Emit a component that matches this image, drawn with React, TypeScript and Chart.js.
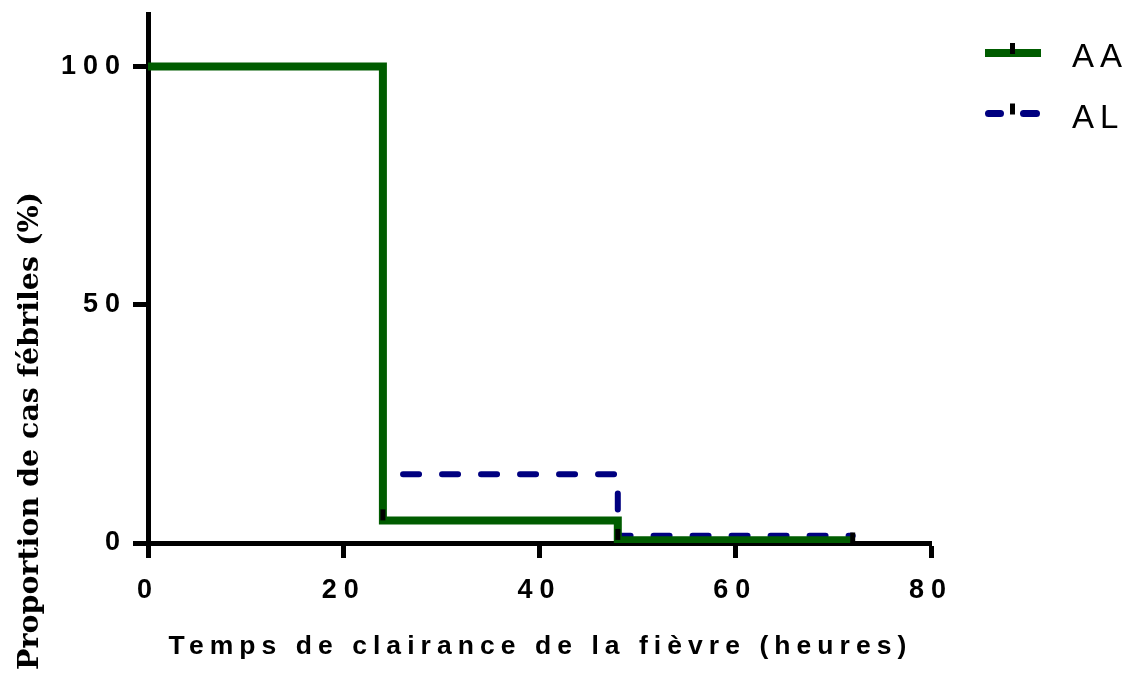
import React, { useEffect, useRef } from 'react';
import { Chart, registerables } from 'chart.js';
Chart.register(...registerables);

const xTicks = [0, 20, 40, 60, 80];
const yTicks = [0, 50, 100];
const timesAA = [0, 24, 48, 72];
const valuesAA = [100, 4.7, 0.6, 0.6];
const timesAL = [0, 24, 48, 72];
const valuesAL = [100, 14.4, 1.5, 1.5];
const censorTimes = [24, 48, 72];
const censorValues = [5.9, 1.8, 1.05];
const seriesNames = ['AA', 'AL'];
const seriesColors = ['#005c00', '#000080'];
const xTitle = 'Temps de clairance de la fièvre (heures)';
const yTitle = 'Proportion de cas fébriles (%)';

const SANS = "'Liberation Sans', Arial, sans-serif";
const SERIF = "'DejaVu Serif', 'Liberation Serif', serif";

const textPlugin = {
  id: 'customText',
  beforeDraw(chart: any) {
    (chart.ctx as any).letterSpacing = '7px';
  },
  afterDraw(chart: any) {
    const ctx = chart.ctx as any;
    const area = chart.chartArea;
    ctx.save();
    // x title
    ctx.letterSpacing = '6.05px';
    ctx.fillStyle = '#000';
    ctx.font = `bold 26.5px ${SANS}`;
    ctx.textAlign = 'center';
    ctx.textBaseline = 'alphabetic';
    ctx.fillText(xTitle, (area.left + area.right) / 2 + 1, 654);
    // y title
    ctx.letterSpacing = '0px';
    ctx.save();
    ctx.translate(38, 431);
    ctx.rotate(-Math.PI / 2);
    ctx.font = `bold 28.5px ${SERIF}`;
    ctx.textAlign = 'center';
    ctx.fillText(yTitle, 0, 0);
    ctx.restore();
    // legend
    const ly = [53, 113.5];
    const tb = [67, 128];
    for (let i = 0; i < seriesNames.length; i++) {
      ctx.strokeStyle = seriesColors[i];
      ctx.lineWidth = 8;
      if (i === 0) {
        ctx.lineCap = 'butt';
        ctx.beginPath();
        ctx.moveTo(985, ly[i]);
        ctx.lineTo(1041, ly[i]);
        ctx.stroke();
      } else {
        ctx.lineWidth = 7;
        ctx.lineCap = 'round';
        ctx.beginPath();
        ctx.moveTo(988.5, ly[i]);
        ctx.lineTo(1000.5, ly[i]);
        ctx.moveTo(1023.5, ly[i]);
        ctx.lineTo(1036.5, ly[i]);
        ctx.stroke();
      }
      ctx.fillStyle = '#000';
      ctx.fillRect(1010, ly[i] - 10, 5, 11);
      ctx.letterSpacing = '6px';
      ctx.font = `33px ${SANS}`;
      ctx.textAlign = 'left';
      ctx.fillText(seriesNames[i], 1072, tb[i]);
      ctx.letterSpacing = '0px';
    }
    ctx.restore();
  },
};

export default function App() {
  const ref = useRef<HTMLCanvasElement | null>(null);
  useEffect(() => {
    if (!ref.current) return;
    const chart = new Chart(ref.current, {
      type: 'line',
      data: {
        datasets: [
          {
            type: 'scatter',
            label: 'censor',
            data: censorTimes.map((t, i) => ({ x: t, y: censorValues[i] })),
            showLine: false,
            pointStyle: 'line',
            rotation: 90,
            pointRadius: 5.5,
            pointBorderWidth: 5,
            pointBorderColor: '#000',
            borderColor: '#000',
            order: 0,
          } as any,
          {
            label: seriesNames[0],
            data: timesAA.map((t, i) => ({ x: t, y: valuesAA[i] })),
            stepped: 'before',
            borderColor: seriesColors[0],
            borderWidth: 8,
            borderJoinStyle: 'miter',
            pointRadius: 0,
            fill: false,
            order: 1,
          },
          {
            label: seriesNames[1],
            data: timesAL.map((t, i) => ({ x: t, y: valuesAL[i] })),
            stepped: 'before',
            borderColor: seriesColors[1],
            borderWidth: 6,
            borderDash: [16, 23],
            borderCapStyle: 'round',
            pointRadius: 0,
            fill: false,
            order: 2,
          },
        ],
      },
      options: {
        responsive: false,
        animation: false,
        devicePixelRatio: 1,
        layout: { padding: { left: 0, right: 194, top: 14, bottom: 0 } },
        plugins: { legend: { display: false }, tooltip: { enabled: false } },
        scales: {
          x: {
            type: 'linear',
            min: 0,
            max: 80,
            afterBuildTicks: (s: any) => { s.ticks = xTicks.map((v) => ({ value: v })); },
            afterFit: (s: any) => { s.height = 134; },
            ticks: {
              color: '#000',
              font: { family: SANS, size: 27, weight: 'bold', lineHeight: 1 },
              padding: 19,
              maxRotation: 0,
            },
            grid: { drawOnChartArea: false, drawTicks: true, tickLength: 15, tickWidth: 5, tickColor: '#000' },
            border: { display: true, color: '#000', width: 5 },
          },
          y: {
            type: 'linear',
            min: 0,
            max: 111,
            afterBuildTicks: (s: any) => { s.ticks = yTicks.map((v) => ({ value: v })); },
            afterFit: (s: any) => { s.width = 148; },
            ticks: {
              color: '#000',
              font: { family: SANS, size: 27, weight: 'bold', lineHeight: 0.3 },
              padding: 6,
            },
            grid: { drawOnChartArea: false, drawTicks: true, tickLength: 15, tickWidth: 5, tickColor: '#000' },
            border: { display: true, color: '#000', width: 5 },
          },
        },
      },
      plugins: [textPlugin],
    });
    return () => chart.destroy();
  }, []);
  return (
    <div style={{ position: 'absolute', left: 0, top: 0, width: 1125, height: 677, background: '#fff' }}>
      <canvas ref={ref} width={1125} height={677} />
    </div>
  );
}
